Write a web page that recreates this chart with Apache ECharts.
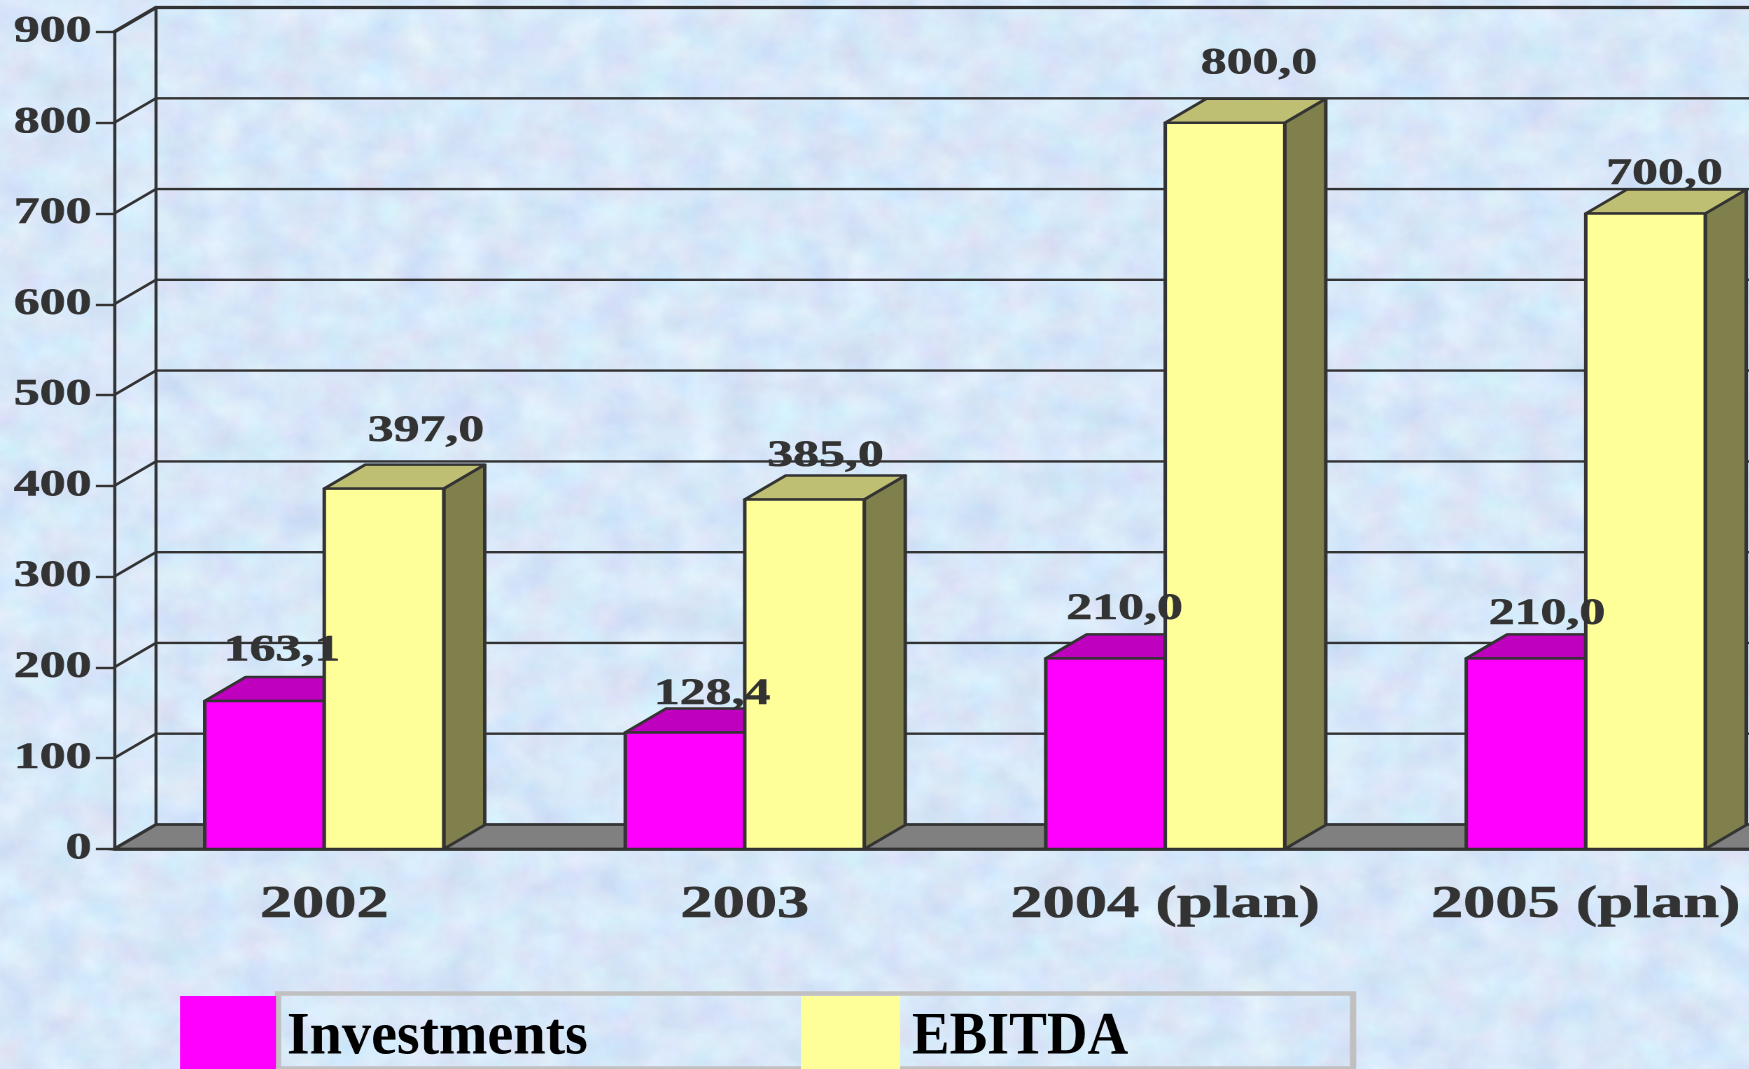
<!DOCTYPE html>
<html>
<head>
<meta charset="utf-8">
<title>Investments and EBITDA</title>
<script src="https://cdn.jsdelivr.net/npm/echarts@6/dist/echarts.min.js"></script>
<style>
    html, body{
        margin: 0;
        padding: 0;
        width: 1749px;
        height: 1069px;
        overflow: hidden;
        background-color: #d6e7f8;
    }
    #texture, #chart{
        position: absolute;
        left: 0;
        top: 0;
    }
    #chart{
        height: 1069px;
        transform-origin: 0 0;
    }
</style>
</head>
<body>
<!-- marble paper behind the chart -->
<svg id="texture" width="1749" height="1069" xmlns="http://www.w3.org/2000/svg">
    <filter id="paper" color-interpolation-filters="sRGB" x="0" y="0" width="100%" height="100%">
        <feTurbulence type="fractalNoise" baseFrequency="0.025 0.03" numOctaves="5" seed="7"/>
        <feColorMatrix type="matrix" values="0.13 0.05 0 0 0.755  0.02 0.12 0 0 0.838  0 0.05 0.05 0 0.925  0 0 0 0 1"/>
    </filter>
    <rect width="1749" height="1069" filter="url(#paper)"/>
</svg>
<div id="chart"></div>

<script>
// data
const categories = ['2002', '2003', '2004 (plan)', '2005 (plan)']
const investments = [163.1, 128.4, 210, 210]
const ebitda = [397, 385, 800, 700]
const yTicks = [0, 100, 200, 300, 400, 500, 600, 700, 800, 900]
const seriesNames = ['Investments', 'EBITDA']

// the source picture is a slide stretched sideways, so the whole chart is too
const S = 1.4
const INK = '#333333'
const SERIF = '"Liberation Serif", "Times New Roman", serif'
const BAR_W = 119.5 / S
const BAR_DX = 41 / S
const BAR_DY = 24
const WALL_DX = 42 / S
const WALL_DY = 24.5

// where each value label sits against the front top corner of its bar (page px)
const investLabelShift = [[17.5, -50], [27, -38], [19, -49], [21, -44]]
const ebitdaLabelShift = [[42, -57], [21, -43], [34, -59], [19, -39]]

const chartDom = document.getElementById('chart')
chartDom.style.width = (1749 / S) + 'px'
chartDom.style.transform = 'scaleX(' + S + ')'

function valueText(v){
    return v.toFixed(1).replace('.', ',')
}

// one cuboid: side == -1 sits left of the band centre, side == 1 right of it
function renderCuboid(side, front, top, flank, shifts){
    return function(params, api){
        const idx = api.value(0)
        const val = api.value(1)
        const p = api.coord([idx, val])
        const base = api.coord([idx, 0])
        const x0 = side < 0 ? p[0] - BAR_W : p[0]
        const x1 = x0 + BAR_W
        const y0 = p[1]
        const y1 = base[1]
        const line = { stroke: INK, lineWidth: 2.5, lineJoin: 'round' }
        const shift = shifts[params.dataIndex]
        return {
            type: 'group',
            children: [
                {
                    type: 'polygon',
                    shape: { points: [[x1, y1], [x1 + BAR_DX, y1 - BAR_DY], [x1 + BAR_DX, y0 - BAR_DY], [x1, y0]] },
                    style: Object.assign({ fill: flank }, line)
                },
                {
                    type: 'polygon',
                    shape: { points: [[x0, y0], [x0 + BAR_DX, y0 - BAR_DY], [x1 + BAR_DX, y0 - BAR_DY], [x1, y0]] },
                    style: Object.assign({ fill: top }, line)
                },
                {
                    type: 'rect',
                    shape: { x: x0, y: y0, width: BAR_W, height: y1 - y0 },
                    style: Object.assign({ fill: front }, line)
                },
                {
                    type: 'text',
                    z2: 100,
                    x: (x0 + BAR_W / 2) + shift[0] / S,
                    y: y0 + shift[1],
                    style: {
                        text: valueText(val),
                        font: 'bold 37px ' + SERIF,
                        fill: INK,
                        stroke: INK,
                        lineWidth: 0.6,
                        align: 'center',
                        verticalAlign: 'middle'
                    }
                }
            ]
        }
    }
}

// back wall line for one tick: the diagonal from the axis and the line along the wall
function renderWallLine(params, api){
    const val = api.value(1)
    const p = api.coord([0, val])
    const cs = params.coordSys
    const x = cs.x
    const wallX = x + WALL_DX
    const wallY = p[1] - WALL_DY
    const right = cs.x + cs.width
    const isTop = val === yTicks[yTicks.length - 1]
    const style = { stroke: INK, lineWidth: isTop ? 3.2 : 2.4 }
    const children = []
    if(val > 0){
        children.push({
            type: 'polyline',
            shape: { points: [[x, p[1]], [wallX, wallY], [right, wallY]] },
            style: Object.assign({ fill: null }, style)
        })
    } else {
        children.push({
            type: 'polygon',
            shape: { points: [[x, p[1]], [wallX, wallY], [right + WALL_DX, wallY], [right, p[1]]] },
            style: { fill: '#808080', stroke: INK, lineWidth: 2.8 }
        })
    }
    if(isTop){
        children.push({
            type: 'line',
            shape: { x1: wallX, y1: wallY, x2: wallX, y2: cs.y + cs.height - WALL_DY },
            style: { stroke: INK, lineWidth: 2.2 }
        })
    }
    return { type: 'group', children: children }
}

// legend sits on the unstretched page scale, so its text is squeezed back
function legendGraphic(){
    const frame = {
        type: 'rect',
        shape: { x: 278 / S, y: 993.5, width: 1075 / S, height: 75 },
        style: { fill: null, stroke: '#c0c0c0', lineWidth: 4.5 }
    }
    const swatch = function(x, w, color){
        return {
            type: 'rect',
            shape: { x: x / S, y: 996, width: w / S, height: 75 },
            style: { fill: color }
        }
    }
    const label = function(x, text, squeeze){
        return {
            type: 'text',
            x: x / S,
            y: 1038,
            scaleX: squeeze / S,
            style: {
                text: text,
                font: 'bold 60px ' + SERIF,
                fill: '#000000',
                verticalAlign: 'middle'
            }
        }
    }
    return [
        frame,
        swatch(180, 96, '#ff00ff'),
        swatch(801, 99, '#ffff99'),
        label(287, seriesNames[0], 0.97),
        label(912, seriesNames[1], 0.94)
    ]
}

let myChart = echarts.init(chartDom, null, { devicePixelRatio: 2 })
myChart.setOption({
    animation: false,
    backgroundColor: 'transparent',
    grid: {
        left: 114 / S,
        top: 32,
        width: 1682 / S,
        height: 817,
        outerBoundsMode: 'none'
    },
    xAxis: {
        type: 'category',
        data: categories,
        axisLine: { lineStyle: { color: INK, width: 2.8 } },
        axisTick: { length: 13, lineStyle: { color: INK, width: 2 } },
        axisLabel: {
            interval: 0,
            margin: 33,
            color: INK,
            fontFamily: SERIF,
            fontWeight: 'bold',
            fontSize: 46,
            textBorderColor: INK,
            textBorderWidth: 0.6
        },
        z: 6
    },
    yAxis: {
        type: 'value',
        min: 0,
        max: 900,
        interval: 100,
        splitLine: { show: false },
        axisLine: { show: true, lineStyle: { color: INK, width: 2.2 } },
        axisTick: { show: true, length: 13, lineStyle: { color: INK, width: 2.4 } },
        axisLabel: {
            margin: 16,
            padding: [8, 0, 0, 0],
            color: INK,
            fontFamily: SERIF,
            fontWeight: 'bold',
            fontSize: 37,
            textBorderColor: INK,
            textBorderWidth: 0.6,
            formatter: function(v){ return yTicks.indexOf(v) >= 0 ? String(v) : '' }
        },
        z: 6
    },
    series: [
        {
            name: 'wall',
            type: 'custom',
            z: 1,
            silent: true,
            clip: false,
            renderItem: renderWallLine,
            encode: { x: 0, y: 1 },
            data: yTicks.map(function(v){ return [0, v] })
        },
        {
            name: seriesNames[0],
            type: 'custom',
            z: 3,
            clip: false,
            renderItem: renderCuboid(-1, '#ff00ff', '#bf00bf', '#800080', investLabelShift),
            encode: { x: 0, y: 1 },
            data: investments.map(function(v, i){ return [i, v] })
        },
        {
            name: seriesNames[1],
            type: 'custom',
            z: 3,
            clip: false,
            renderItem: renderCuboid(1, '#ffff99', '#bfbf73', '#80804d', ebitdaLabelShift),
            encode: { x: 0, y: 1 },
            data: ebitda.map(function(v, i){ return [i, v] })
        }
    ],
    graphic: legendGraphic()
})
</script>
</body>
</html>
